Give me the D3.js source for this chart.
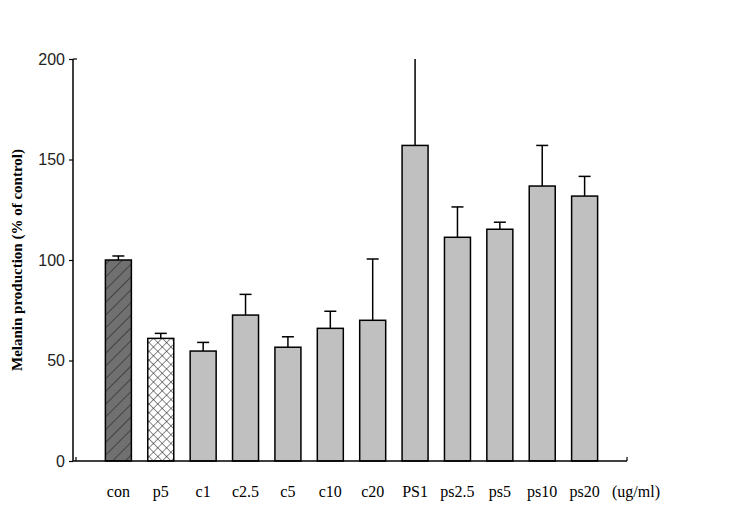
<!DOCTYPE html>
<html>
<head>
<meta charset="utf-8">
<script src="https://cdn.jsdelivr.net/npm/d3@7"></script>
<style>
    body { margin: 0; background: #fff; }
</style>
</head>
<body>
<div class="bar_chart"></div>
<script>
const categories = ["con", "p5", "c1", "c2.5", "c5", "c10", "c20", "PS1", "ps2.5", "ps5", "ps10", "ps20"];
const means      = [100, 61, 54.7, 72.6, 56.6, 66, 70, 157, 111.3, 115.3, 136.8, 131.8];
const errors     = [2, 2.5, 4.3, 10.3, 5.2, 8.5, 30.5, 50, 15.1, 3.5, 20.2, 9.8];
const yTicks     = [0, 50, 100, 150, 200];
const unitLabel  = "(ug/ml)";

const width = 729, height = 507;
const translate = (x, y) => 'translate(' + x + ', ' + y + ')';

const svg = d3.select(".bar_chart")
              .append("svg")
                  .attr("width", width)
                  .attr("height", height);

/* patterns */
const defs = svg.append("defs");
defs.append("pattern")
    .attr("id", "hatch")
    .attr("patternUnits", "userSpaceOnUse")
    .attr("width", 9).attr("height", 9)
    .attr("patternTransform", "rotate(45)")
    .call(p => {
        p.append("rect").attr("width", 9).attr("height", 9).attr("fill", "#707070");
        p.append("line").attr("x1", 0).attr("y1", 0).attr("x2", 0).attr("y2", 9)
         .attr("stroke", "#222").attr("stroke-width", 1.2);
    });
defs.append("pattern")
    .attr("id", "cross")
    .attr("patternUnits", "userSpaceOnUse")
    .attr("width", 6.2).attr("height", 6.2)
    .attr("patternTransform", "rotate(45)")
    .call(p => {
        p.append("rect").attr("width", 6.2).attr("height", 6.2).attr("fill", "#fff");
        p.append("line").attr("x1", 0).attr("y1", 0).attr("x2", 0).attr("y2", 6.2)
         .attr("stroke", "#000").attr("stroke-width", 0.9);
        p.append("line").attr("x1", 0).attr("y1", 0).attr("x2", 6.2).attr("y2", 0)
         .attr("stroke", "#000").attr("stroke-width", 0.9);
    });
defs.append("clipPath")
    .attr("id", "plotClip")
    .append("rect")
        .attr("x", 0).attr("y", 59).attr("width", width).attr("height", 420);

const x = d3.scalePoint()
            .domain(categories)
            .range([76, 627])
            .padding(1);

const y = d3.scaleLinear()
            .domain([0, 200])
            .range([461, 59]);

const barWidth = 26;
const fills = ["url(#hatch)", "url(#cross)"];

const plot = svg.append("g").attr("clip-path", "url(#plotClip)");

/* error bars (upward only) */
const err = plot.selectAll("g.err")
                .data(categories)
                .enter()
                .append("g")
                    .attr("class", "err")
                    .attr("stroke", "#000")
                    .attr("stroke-width", 1.5);
err.append("line")
    .attr("x1", d => x(d)).attr("x2", d => x(d))
    .attr("y1", (d, i) => y(means[i]))
    .attr("y2", (d, i) => y(means[i] + errors[i]));
err.append("line")
    .attr("x1", d => x(d) - 6).attr("x2", d => x(d) + 6)
    .attr("y1", (d, i) => y(means[i] + errors[i]))
    .attr("y2", (d, i) => y(means[i] + errors[i]))
    .attr("display", (d, i) => means[i] + errors[i] > 200 ? "none" : "block");

/* bars */
plot.selectAll("rect.bar")
    .data(categories)
    .enter()
    .append("rect")
        .attr("class", "bar")
        .attr("x", d => x(d) - barWidth / 2)
        .attr("width", barWidth)
        .attr("y", (d, i) => y(means[i]))
        .attr("height", (d, i) => y(0) - y(means[i]))
        .attr("fill", (d, i) => fills[i] || "#c0c0c0")
        .attr("stroke", "#000")
        .attr("stroke-width", 1.5);

/* y axis */
const yAxis = svg.append("g")
                 .attr("transform", translate(73, 0))
                 .call(d3.axisLeft(y).tickValues(yTicks).tickSize(4).tickPadding(4));
yAxis.select(".domain").attr("d", "M0," + y(200) + "V" + y(0)).attr("stroke-width", 1.5);
yAxis.selectAll(".tick line").attr("stroke-width", 1.2);
yAxis.selectAll("text")
     .attr("font-family", "Arial, 'Liberation Sans', sans-serif")
     .attr("font-size", "16px")
     .attr("fill", "#222");
yAxis.append("line")
     .attr("x1", 0).attr("x2", 4)
     .attr("y1", y(200)).attr("y2", y(200))
     .attr("stroke", "#000").attr("stroke-width", 1.2);

/* x axis */
const xAxis = svg.append("g").attr("transform", translate(0, y(0)));
xAxis.append("line")
     .attr("x1", 73).attr("x2", 627)
     .attr("y1", 0).attr("y2", 0)
     .attr("stroke", "#000").attr("stroke-width", 1.5);
xAxis.selectAll("line.end")
     .data(x.range())
     .enter()
     .append("line")
         .attr("class", "end")
         .attr("x1", d => d).attr("x2", d => d)
         .attr("y1", 0).attr("y2", -4)
         .attr("stroke", "#000").attr("stroke-width", 1.2);
xAxis.selectAll("text")
     .data(categories)
     .enter()
     .append("text")
         .attr("x", d => x(d))
         .attr("y", 36)
         .attr("text-anchor", "middle")
         .attr("font-family", "'Times New Roman', 'Liberation Serif', serif")
         .attr("font-size", "16px")
         .text(d => d);
xAxis.append("text")
     .attr("x", 612)
     .attr("y", 36)
     .attr("font-family", "'Times New Roman', 'Liberation Serif', serif")
     .attr("font-size", "16px")
     .text(unitLabel);

/* y label */
svg.append("text")
   .attr("transform", translate(22, 260) + " rotate(-90)")
   .attr("text-anchor", "middle")
   .attr("font-family", "'Times New Roman', 'Liberation Serif', serif")
   .attr("font-weight", "bold")
   .attr("font-size", "15px")
   .text("Melanin production (% of control)");
</script>
</body>
</html>
